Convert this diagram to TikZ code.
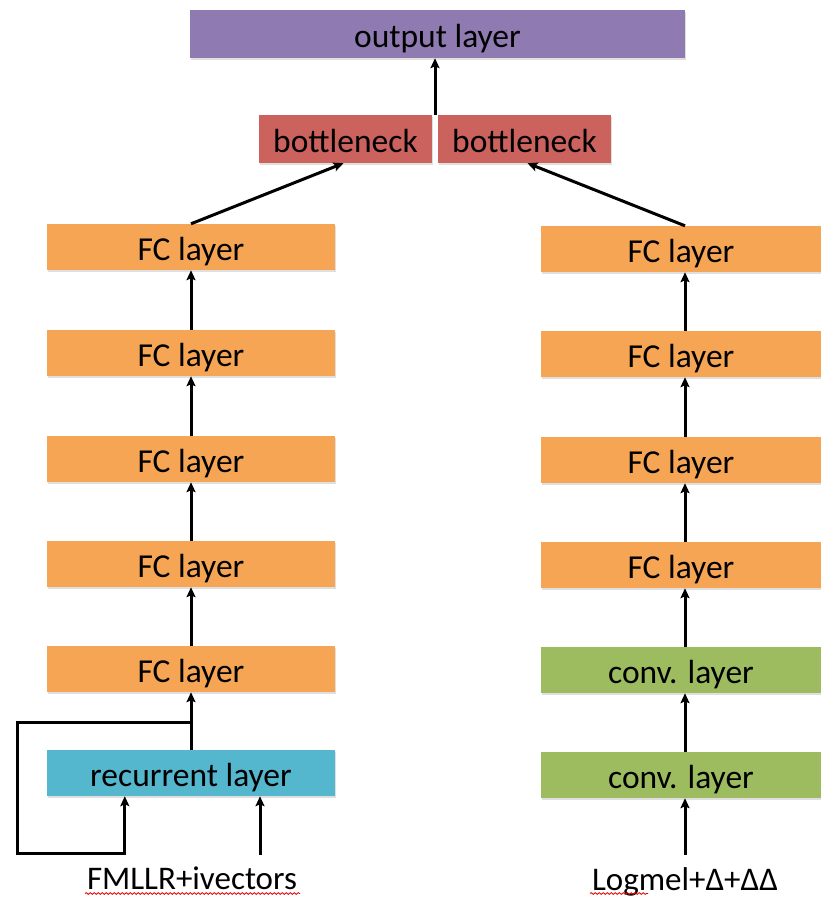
\documentclass[tikz,border=0pt]{standalone}
\usepackage{fontspec}
\setmainfont{Carlito}
\usetikzlibrary{arrows.meta,shadows,decorations.pathmorphing,calc}

\definecolor{outpurple}{RGB}{143,123,177}
\definecolor{bnred}{RGB}{204,98,93}
\definecolor{fcorange}{RGB}{246,165,84}
\definecolor{recteal}{RGB}{84,183,205}
\definecolor{convgreen}{RGB}{156,188,95}

\tikzset{
  layer/.style={rectangle, inner sep=0pt, minimum height=46pt, text=black,
    font=\fontsize{33.5}{38}\selectfont, text height=26pt, text depth=0pt,
    drop shadow={opacity=0.25, shadow xshift=1pt, shadow yshift=-1.5pt}},
  leftbox/.style={layer, minimum width=288pt},
  rightbox/.style={layer, minimum width=280pt},
  fcbox/.style={fill=fcorange},
  arr/.style={line width=3pt, -{Stealth[length=10pt,width=9pt,inset=2pt]}},
  inlabel/.style={inner sep=0pt, anchor=base, font=\fontsize{33}{38}\selectfont},
  spell/.style={red!90!black, line width=0.8pt, decorate,
    decoration={snake, amplitude=0.9pt, segment length=4pt}}
}

\begin{document}
\begin{tikzpicture}[x=1pt, y=-1pt]
\useasboundingbox (0,0) rectangle (821,898);

% top of the network
\node[layer, fill=outpurple, minimum width=495pt, minimum height=48pt, text height=27pt] (out) at (437.5,34) {output layer};
\node[layer, fill=bnred, minimum width=173pt, minimum height=48pt] (bnl) at (345.5,139) {bottleneck};
\node[layer, fill=bnred, minimum width=173pt, minimum height=48pt] (bnr) at (524.5,139) {bottleneck};

% left stack
\node[leftbox, fcbox] (lfc5) at (191,247) {FC layer};
\node[leftbox, fcbox] (lfc4) at (191,353) {FC layer};
\node[leftbox, fcbox] (lfc3) at (191,459) {FC layer};
\node[leftbox, fcbox] (lfc2) at (191,564) {FC layer};
\node[leftbox, fcbox] (lfc1) at (191,669) {FC layer};
\node[leftbox, fill=recteal] (rec) at (191,773) {recurrent layer};

% right stack
\node[rightbox, fcbox] (rfc4) at (681,249) {FC layer};
\node[rightbox, fcbox] (rfc3) at (681,354) {FC layer};
\node[rightbox, fcbox] (rfc2) at (681,460) {FC layer};
\node[rightbox, fcbox] (rfc1) at (681,565) {FC layer};
\node[rightbox, fill=convgreen] (conv2) at (681,670) {conv. layer};
\node[rightbox, fill=convgreen] (conv1) at (681,775) {conv. layer};

% input features
\node[inlabel] (inl) at (192,889) {FMLLR+ivectors};
\node[inlabel] (inr) at (685,890) {Logmel+Δ+ΔΔ};
\draw[spell] (85,893.5) -- (300,893.5);
\draw[spell] (590,893.5) -- (648,893.5);

% merge into the output layer
\coordinate (mid) at ($(bnl.north east)!0.5!(bnr.north west)$);
\draw[arr] (mid) -- (mid |- out.south);
\draw[arr] (lfc5.north) -- ($(bnl.south)+(-2,0)$);
\draw[arr] (rfc4.north -| 685,0) -- ($(bnr.south)+(3,0)$);

% left chain
\draw[arr] (lfc4.north) -- (lfc5.south);
\draw[arr] (lfc3.north) -- (lfc4.south);
\draw[arr] (lfc2.north) -- (lfc3.south);
\draw[arr] (lfc1.north) -- (lfc2.south);
\draw[arr] (rec.north) -- (lfc1.south);

% recurrent feedback loop
\coordinate (branch) at (191,722);
\coordinate (loopl) at (17,722);
\coordinate (loopb) at (17,853);
\coordinate (recin) at ($(rec.south west)+(78,0)$);
\draw[arr, line join=miter] (branch) -- (loopl) -- (loopb) -| (recin);

% left input
\coordinate (inltop) at (260,855);
\draw[arr] (inltop) -- (inltop |- rec.south);

% right chain
\draw[arr] (rfc3.north -| 685,0) -- (rfc4.south -| 685,0);
\draw[arr] (rfc2.north -| 685,0) -- (rfc3.south -| 685,0);
\draw[arr] (rfc1.north -| 685,0) -- (rfc2.south -| 685,0);
\draw[arr] (conv2.north -| 685,0) -- (rfc1.south -| 685,0);
\draw[arr] (conv1.north -| 685,0) -- (conv2.south -| 685,0);

% right input
\coordinate (inrtop) at (685,855);
\draw[arr] (inrtop) -- (conv1.south -| inrtop);
\end{tikzpicture}
\end{document}
